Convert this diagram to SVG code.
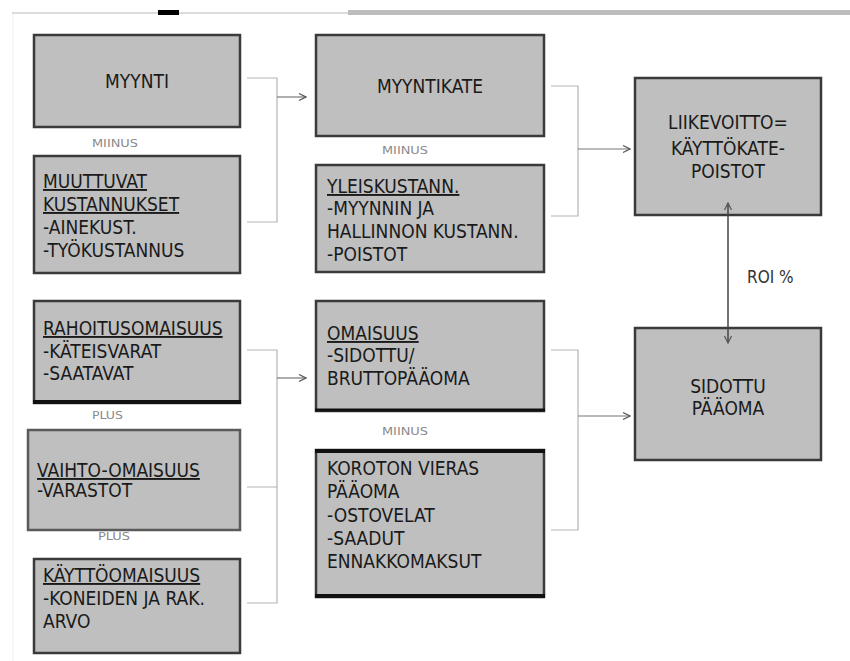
<svg xmlns="http://www.w3.org/2000/svg" width="850" height="661" viewBox="0 0 850 661">
<defs>
<marker id="arr" markerWidth="10" markerHeight="10" refX="9" refY="5" orient="auto-start-reverse" markerUnits="userSpaceOnUse">
<path d="M2,1.5 L9,5 L2,8.5" fill="none" stroke="#555" stroke-width="1.2"/>
</marker>
</defs>
<style>
.box{fill:#bfbfbf;stroke:#3a3a3a;stroke-width:2.5}
.heavy{stroke:#111;stroke-width:4}
.t{font-family:"DejaVu Sans Condensed","DejaVu Sans",sans-serif;font-stretch:condensed;font-size:19px;fill:#1a1a1a}
.u{text-decoration:underline}
.c{text-anchor:middle}
.lbl{font-family:"DejaVu Sans Condensed","DejaVu Sans",sans-serif;font-stretch:condensed;font-size:11px;fill:#8a8a8a}
.con{fill:none;stroke:#b4b4b4;stroke-width:1.2}
.ar{fill:none;stroke:#777;stroke-width:1.2;marker-end:url(#arr)}
</style>
<rect width="850" height="661" fill="#fff"/>
<rect x="12" y="12" width="838" height="2" fill="#dcdcdc"/>
<rect x="158" y="10" width="21" height="5" fill="#000"/>
<rect x="348" y="10" width="502" height="5" fill="#bdbdbd"/>
<line x1="13" y1="14" x2="13" y2="661" stroke="#f0f0f0" stroke-width="1"/>

<g id="myynti">
<rect class="box" x="34" y="35" width="206" height="92"/>
<text class="t c" x="137" y="88">MYYNTI</text>
</g>
<text class="lbl" x="92" y="147" textLength="46" lengthAdjust="spacingAndGlyphs">MIINUS</text>

<g id="muuttuvat">
<rect class="box" x="34" y="156" width="206" height="117"/>
<text class="t" x="43" y="188"><tspan class="u">MUUTTUVAT</tspan></text>
<text class="t" x="43" y="211"><tspan class="u">KUSTANNUKSET</tspan></text>
<text class="t" x="43" y="234">-AINEKUST.</text>
<text class="t" x="43" y="257">-TYÖKUSTANNUS</text>
</g>

<g id="myyntikate">
<rect class="box" x="316" y="35" width="228" height="101"/>
<text class="t c" x="430" y="93">MYYNTIKATE</text>
</g>
<text class="lbl" x="382" y="154" textLength="46" lengthAdjust="spacingAndGlyphs">MIINUS</text>

<g id="yleiskustann">
<rect class="box" x="316" y="165" width="228" height="107"/>
<text class="t" x="327" y="193"><tspan class="u">YLEISKUSTANN.</tspan></text>
<text class="t" x="327" y="215">-MYYNNIN JA</text>
<text class="t" x="327" y="238">HALLINNON KUSTANN.</text>
<text class="t" x="327" y="261">-POISTOT</text>
</g>

<g id="liikevoitto">
<rect class="box" x="635" y="78" width="186" height="137"/>
<text class="t c" x="728" y="129">LIIKEVOITTO=</text>
<text class="t c" x="728" y="155">KÄYTTÖKATE-</text>
<text class="t c" x="728" y="178">POISTOT</text>
</g>

<text class="t" x="747" y="283" style="font-size:17px;fill:#333">ROI %</text>

<g id="sidottu">
<rect class="box" x="635" y="328" width="186" height="132"/>
<text class="t c" x="728" y="393">SIDOTTU</text>
<text class="t c" x="728" y="415">PÄÄOMA</text>
</g>

<g id="rahoitus">
<rect class="box" x="34" y="301" width="206" height="102"/>
<line class="heavy" x1="33" y1="402" x2="241" y2="402"/>
<text class="t" x="43" y="335"><tspan class="u">RAHOITUSOMAISUUS</tspan></text>
<text class="t" x="43" y="358">-KÄTEISVARAT</text>
<text class="t" x="43" y="380">-SAATAVAT</text>
</g>
<text class="lbl" x="92" y="419" textLength="31" lengthAdjust="spacingAndGlyphs">PLUS</text>

<g id="vaihto">
<rect class="box" x="28" y="430" width="212" height="100" style="stroke:#5a5a5a"/>
<text class="t" x="37" y="477"><tspan class="u">VAIHTO-OMAISUUS</tspan></text>
<text class="t" x="37" y="497">-VARASTOT</text>
</g>
<text class="lbl" x="98" y="540" textLength="32" lengthAdjust="spacingAndGlyphs">PLUS</text>

<g id="kayttoomaisuus">
<rect class="box" x="34" y="559" width="206" height="94"/>
<text class="t" x="43" y="582"><tspan class="u">KÄYTTÖOMAISUUS</tspan></text>
<text class="t" x="43" y="605">-KONEIDEN JA RAK.</text>
<text class="t" x="43" y="628">ARVO</text>
</g>

<g id="omaisuus">
<rect class="box" x="316" y="301" width="228" height="110"/>
<line class="heavy" x1="315" y1="410" x2="545" y2="410" style="stroke-width:3"/>
<text class="t" x="327" y="340"><tspan class="u">OMAISUUS</tspan></text>
<text class="t" x="327" y="362">-SIDOTTU/</text>
<text class="t" x="327" y="385">BRUTTOPÄÄOMA</text>
</g>
<text class="lbl" x="382" y="435" textLength="46" lengthAdjust="spacingAndGlyphs">MIINUS</text>

<g id="koroton">
<rect class="box" x="316" y="450" width="228" height="147"/>
<line class="heavy" x1="315" y1="451" x2="545" y2="451"/>
<line class="heavy" x1="315" y1="596" x2="545" y2="596"/>
<text class="t" x="327" y="475">KOROTON VIERAS</text>
<text class="t" x="327" y="498">PÄÄOMA</text>
<text class="t" x="327" y="522">-OSTOVELAT</text>
<text class="t" x="327" y="545">-SAADUT</text>
<text class="t" x="327" y="568">ENNAKKOMAKSUT</text>
</g>

<g id="connectors">
<path class="con" d="M247,78 H277 V222 H247"/>
<line class="ar" x1="277" y1="97" x2="306" y2="97"/>
<path class="con" d="M551,86 H578 V216 H551"/>
<line class="ar" x1="578" y1="149" x2="630" y2="149"/>
<path class="con" d="M247,350 H277 V603 H247 M247,487 H277"/>
<line class="ar" x1="277" y1="378" x2="306" y2="378"/>
<path class="con" d="M551,350 H578 V530 H551"/>
<line class="ar" x1="578" y1="416" x2="630" y2="416"/>
<line x1="728" y1="203" x2="728" y2="343" stroke="#444" stroke-width="1.5" marker-start="url(#arr)" marker-end="url(#arr)"/>
</g>
</svg>
